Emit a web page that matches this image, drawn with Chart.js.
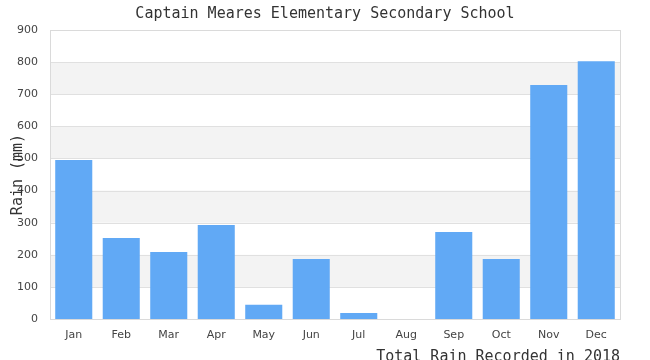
<!DOCTYPE html>
<html>
<head>
<meta charset="utf-8">
<script src="https://cdn.jsdelivr.net/npm/chart.js@4"></script>
<style>
    html, body { margin: 0; padding: 0; background: #ffffff; }
    #wrap { width: 650px; height: 360px; }
</style>
</head>
<body>
<div id="wrap"><canvas id="chart-rain"></canvas></div>
<script>
// Datos del gráfico
const months = ['Jan', 'Feb', 'Mar', 'Apr', 'May', 'Jun', 'Jul', 'Aug', 'Sep', 'Oct', 'Nov', 'Dec'];
const rainMm = [495, 252, 209, 293, 44, 187, 19, 0, 271, 187, 729, 803];
const yTicks = [0, 100, 200, 300, 400, 500, 600, 700, 800, 900];
const shadedBands = [[100, 200], [300, 400], [500, 600], [700, 800]];

const chartTitle = 'Captain Meares Elementary Secondary School';
const yTitle = 'Rain (mm)';
const xTitle = 'Total Rain Recorded in 2018';

const monoFont = '"DejaVu Sans Mono", "Liberation Mono", monospace';

// Bandas grises, borde y títulos
const decorPlugin = {
    id: 'decor',
    beforeDatasetsDraw(chart) {
        const { ctx, chartArea, scales } = chart;
        ctx.save();
        ctx.fillStyle = '#f3f3f3';
        shadedBands.forEach(b => {
            const top = scales.y.getPixelForValue(b[1]);
            const bottom = scales.y.getPixelForValue(b[0]);
            ctx.fillRect(chartArea.left, top, chartArea.right - chartArea.left, bottom - top);
        });
        // líneas de la cuadrícula encima de las bandas
        ctx.strokeStyle = '#e0e0e0';
        ctx.lineWidth = 1;
        yTicks.forEach(v => {
            const y = Math.round(scales.y.getPixelForValue(v)) + 0.5;
            ctx.beginPath();
            ctx.moveTo(chartArea.left, y);
            ctx.lineTo(chartArea.right, y);
            ctx.stroke();
        });
        ctx.restore();
    },
    afterDraw(chart) {
        const { ctx, chartArea } = chart;
        ctx.save();
        ctx.strokeStyle = '#dadada';
        ctx.lineWidth = 1;
        ctx.strokeRect(Math.round(chartArea.left) + 0.5, Math.round(chartArea.top) + 0.5,
            Math.round(chartArea.right - chartArea.left), Math.round(chartArea.bottom - chartArea.top));

        ctx.fillStyle = '#333333';
        ctx.font = '15px ' + monoFont;
        ctx.textAlign = 'center';
        ctx.textBaseline = 'middle';
        ctx.fillText(chartTitle, 325, 14);

        ctx.textAlign = 'right';
        ctx.textBaseline = 'alphabetic';
        ctx.fillText(xTitle, chartArea.right, 361);

        ctx.translate(18, (chartArea.top + chartArea.bottom) / 2);
        ctx.rotate(-Math.PI / 2);
        ctx.textAlign = 'center';
        ctx.textBaseline = 'middle';
        ctx.fillText(yTitle, 0, 0);
        ctx.restore();
    }
};

new Chart(document.getElementById('chart-rain'), {
    type: 'bar',
    data: {
        labels: months,
        datasets: [{
            data: rainMm,
            backgroundColor: '#61a9f5',
            borderWidth: 0,
            barPercentage: 0.78,
            categoryPercentage: 1.0
        }]
    },
    options: {
        responsive: true,
        maintainAspectRatio: false,
        animation: false,
        layout: {
            padding: { left: 0, right: 30, top: 30, bottom: 0 }
        },
        plugins: {
            legend: { display: false },
            tooltip: { enabled: false }
        },
        scales: {
            x: {
                grid: { display: false, drawTicks: false },
                border: { display: false },
                ticks: {
                    color: '#444444',
                    padding: 10,
                    font: { family: '"DejaVu Sans", sans-serif', size: 11 }
                },
                afterFit(scale) { scale.height = 41; }
            },
            y: {
                min: 0,
                max: 900,
                grid: { display: false, drawTicks: false },
                border: { display: false },
                afterBuildTicks(scale) {
                    scale.ticks = yTicks.map(v => ({ value: v }));
                },
                ticks: {
                    color: '#444444',
                    padding: 12,
                    font: { family: '"DejaVu Sans", sans-serif', size: 11 }
                },
                afterFit(scale) { scale.width = 50; }
            }
        }
    },
    plugins: [decorPlugin]
});
</script>
</body>
</html>
